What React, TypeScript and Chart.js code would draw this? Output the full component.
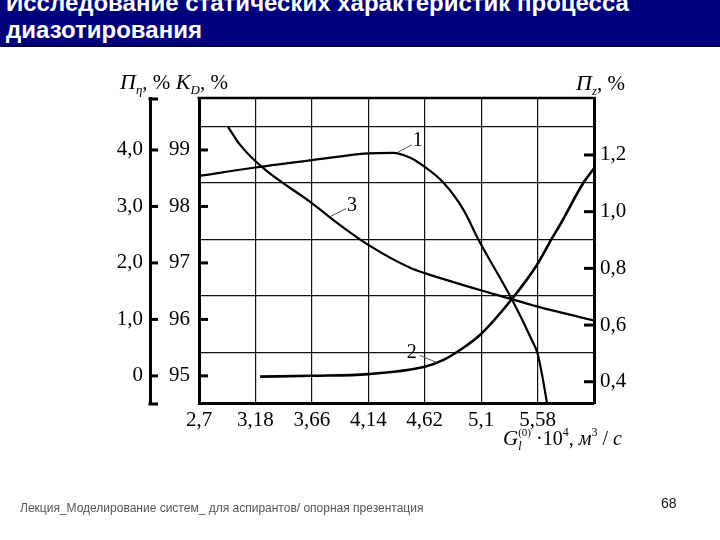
import React, { useEffect, useRef } from 'react';
import { Chart, registerables } from 'chart.js';

Chart.register(...registerables);

// ---- data ----
const xTicks = [2.7, 3.18, 3.66, 4.14, 4.62, 5.1, 5.58, 6.06];
const kTicks = [95, 96, 97, 98, 99];
const pTicks = [0, 1, 2, 3, 4];
const pTickLabels = ['0', '1,0', '2,0', '3,0', '4,0'];
const rTicks = [0.4, 0.6, 0.8, 1.0, 1.2];
const hGrid = [95.42, 96.42, 97.42, 98.42, 99.41];

// curve 1: K_D, %
const curve1X = [2.7, 3.18, 3.66, 4.14, 4.35, 4.51, 4.62, 4.78, 4.95, 5.075, 5.36, 5.53, 5.579, 5.62, 5.66];
const curve1Y = [98.54, 98.69, 98.82, 98.94, 98.95, 98.85, 98.7, 98.42, 97.94, 97.42, 96.36, 95.64, 95.4, 95.0, 94.52];

// curve 2: П_z, %
const curve2X = [3.22, 3.66, 4.14, 4.62, 4.78, 4.92, 5.09, 5.36, 5.574, 5.7, 5.77, 5.97, 6.06];
const curve2Y = [0.418, 0.421, 0.427, 0.453, 0.477, 0.512, 0.565, 0.691, 0.812, 0.904, 0.953, 1.102, 1.153];

// curve 3: П_η, %
const curve3X = [2.947, 3.05, 3.234, 3.66, 3.9, 4.14, 4.5, 4.62, 5.09, 5.36, 5.574, 6.06];
const curve3Y = [4.41, 4.09, 3.7, 3.06, 2.67, 2.32, 1.91, 1.82, 1.52, 1.36, 1.23, 0.98];

const fmt = (v: number, d?: number) => (d !== undefined ? v.toFixed(d) : String(v)).replace('.', ',');

const SERIF = '"Liberation Serif", "Times New Roman", serif';

type Seg = { t: string; it?: boolean; sz: number; dy?: number; noAdv?: boolean };

function drawRich(ctx: CanvasRenderingContext2D, segs: Seg[], x: number, y: number) {
  let cx = x;
  for (const s of segs) {
    ctx.font = `${s.it ? 'italic ' : ''}${s.sz}px ${SERIF}`;
    ctx.fillText(s.t, cx, y + (s.dy || 0));
    if (!s.noAdv) cx += ctx.measureText(s.t).width;
  }
}

const decoPlugin = {
  id: 'deco',
  afterDraw(chart: any) {
    const ctx: CanvasRenderingContext2D = chart.ctx;
    const a = chart.chartArea;
    const sK = chart.scales.yK;
    const sP = chart.scales.yP;
    const sR = chart.scales.yR;
    const sX = chart.scales.x;
    const line = (x1: number, y1: number, x2: number, y2: number) => {
      ctx.beginPath();
      ctx.moveTo(x1, y1);
      ctx.lineTo(x2, y2);
      ctx.stroke();
    };
    ctx.save();
    ctx.strokeStyle = '#000';
    ctx.fillStyle = '#000';
    // top border
    ctx.lineWidth = 2.5;
    line(a.left - 1.5, a.top, a.right + 1.5, a.top);
    // inner tick marks
    ctx.lineWidth = 3;
    kTicks.forEach((v) => {
      const y = sK.getPixelForValue(v);
      line(a.left, y, a.left + 9, y);
    });
    rTicks.forEach((v) => {
      const y = sR.getPixelForValue(v);
      line(a.right - 10, y, a.right, y);
    });
    // bracket of outer axis
    const bx = sP.right;
    pTicks.forEach((v) => {
      const y = sP.getPixelForValue(v);
      line(bx, y, bx + 8, y);
    });
    line(bx - 1.5, a.top + 1, bx + 8, a.top + 1);
    line(bx - 1.5, a.bottom + 1, bx + 8, a.bottom + 1);

    // curve labels with leader lines
    ctx.lineWidth = 1;
    ctx.strokeStyle = '#555';
    ctx.font = `20px ${SERIF}`;
    ctx.textAlign = 'center';
    ctx.textBaseline = 'middle';
    // 1
    let px = sX.getPixelForValue(4.383);
    let py = sK.getPixelForValue(98.95);
    line(px, py, px + 15, py - 8);
    ctx.fillText('1', px + 21, py - 12);
    // 3
    px = sX.getPixelForValue(3.815);
    py = sP.getPixelForValue(2.82);
    line(px, py, px + 16, py - 8);
    ctx.fillText('3', px + 22, py - 11);
    // 2
    px = sX.getPixelForValue(4.723);
    py = sR.getPixelForValue(0.468);
    line(px, py, px - 17, py - 7);
    ctx.fillText('2', px - 25, py - 10);

    // axis titles
    ctx.textAlign = 'left';
    ctx.textBaseline = 'alphabetic';
    drawRich(ctx, [
      { t: 'П', it: true, sz: 22 },
      { t: 'η', it: true, sz: 13, dy: 5 },
      { t: ', %', sz: 21 },
      { t: ' K', it: true, sz: 22 },
      { t: 'D', it: true, sz: 13, dy: 5 },
      { t: ', %', sz: 21 },
    ], 120, 89);
    drawRich(ctx, [
      { t: 'П', it: true, sz: 22 },
      { t: 'z', it: true, sz: 13, dy: 5 },
      { t: ', %', sz: 21 },
    ], 576, 90);
    drawRich(ctx, [
      { t: 'G', it: true, sz: 21 },
      { t: 'l', it: true, sz: 12, dy: 5, noAdv: true },
      { t: '(0)', sz: 11, dy: -9 },
      { t: ' ·10', sz: 20 },
      { t: '4', sz: 12, dy: -9 },
      { t: ', ', sz: 20 },
      { t: 'м', it: true, sz: 20 },
      { t: '3', sz: 12, dy: -9 },
      { t: ' / ', sz: 20 },
      { t: 'с', it: true, sz: 20 },
    ], 503, 445);
    ctx.restore();
  },
};

const tickFont = { family: SERIF, size: 21 };

export default function App() {
  const ref = useRef<HTMLCanvasElement>(null);
  useEffect(() => {
    if (!ref.current) return;
    const lineStyle = {
      borderColor: '#000',
      borderWidth: 2.2,
      pointRadius: 0,
      fill: false,
      cubicInterpolationMode: 'monotone' as const,
    };
    const chart = new Chart(ref.current, {
      type: 'line',
      data: {
        datasets: [
          { ...lineStyle, label: '1', yAxisID: 'yK', data: curve1X.map((x, i) => ({ x, y: curve1Y[i] })) },
          { ...lineStyle, label: '2', yAxisID: 'yR', borderWidth: 2.6, data: curve2X.map((x, i) => ({ x, y: curve2Y[i] })) },
          { ...lineStyle, label: '3', yAxisID: 'yP', data: curve3X.map((x, i) => ({ x, y: curve3Y[i] })) },
        ],
      },
      options: {
        responsive: false,
        animation: false,
        devicePixelRatio: 1,
        layout: { padding: { top: 98, left: 0, right: 0, bottom: 0 } },
        plugins: { legend: { display: false }, tooltip: { enabled: false } },
        scales: {
          x: {
            type: 'linear',
            position: 'bottom',
            min: 2.7,
            max: 6.06,
            afterBuildTicks: (s: any) => {
              s.ticks = xTicks.map((v) => ({ value: v }));
            },
            ticks: {
              callback: (v: any) => (v === 6.06 ? '' : fmt(v)),
              font: tickFont,
              color: '#000',
              padding: 5,
              maxRotation: 0,
              autoSkip: false,
            },
            grid: { color: '#111', lineWidth: 1.2, drawTicks: false },
            border: { color: '#000', width: 3 },
            afterFit: (s: any) => {
              s.height = 137;
            },
          },
          yK: {
            type: 'linear',
            position: 'left',
            weight: 1,
            min: 94.52,
            max: 99.92,
            afterBuildTicks: (s: any) => {
              s.ticks = kTicks.map((v) => ({ value: v }));
            },
            ticks: { callback: (v: any) => String(v), font: tickFont, color: '#000', padding: 9 },
            grid: { display: false, drawTicks: false },
            border: { color: '#000', width: 3 },
            afterFit: (s: any) => {
              s.width = 49;
            },
          },
          yP: {
            type: 'linear',
            position: 'left',
            weight: 2,
            min: -0.48,
            max: 4.92,
            afterBuildTicks: (s: any) => {
              s.ticks = pTicks.map((v) => ({ value: v }));
            },
            ticks: {
              callback: (v: any) => pTickLabels[pTicks.indexOf(v)] ?? '',
              font: tickFont,
              color: '#000',
              padding: 7,
            },
            grid: { display: false, drawTicks: false },
            border: { color: '#000', width: 3 },
            afterFit: (s: any) => {
              s.width = 150;
            },
          },
          yR: {
            type: 'linear',
            position: 'right',
            weight: 1,
            min: 0.325,
            max: 1.401,
            afterBuildTicks: (s: any) => {
              s.ticks = rTicks.map((v) => ({ value: v }));
            },
            ticks: { callback: (v: any) => fmt(v, 1), font: tickFont, color: '#000', padding: 6 },
            grid: { display: false, drawTicks: false },
            border: { color: '#000', width: 3 },
            afterFit: (s: any) => {
              s.width = 126;
            },
          },
          yG: {
            type: 'linear',
            position: 'right',
            weight: 0,
            min: 94.52,
            max: 99.92,
            afterBuildTicks: (s: any) => {
              s.ticks = hGrid.map((v) => ({ value: v }));
            },
            ticks: { display: false },
            grid: { color: '#111', lineWidth: 1.2, drawTicks: false },
            border: { display: false },
            afterFit: (s: any) => {
              s.width = 0;
            },
          },
        },
      } as any,
      plugins: [decoPlugin],
    });
    return () => chart.destroy();
  }, []);

  return (
    <div
      style={{
        position: 'fixed',
        left: 0,
        top: 0,
        width: 720,
        height: 540,
        background: '#fff',
        overflow: 'hidden',
      }}
    >
      <div
        style={{
          position: 'absolute',
          left: 0,
          top: 0,
          width: 720,
          height: 45,
          background: '#00007e',
          borderBottom: '2px solid #000048',
          overflow: 'hidden',
        }}
      >
        <div
          style={{
            position: 'absolute',
            left: 6,
            top: -11,
            width: 715,
            color: '#fff',
            fontFamily: '"Liberation Sans", Arial, sans-serif',
            fontWeight: 'bold',
            fontSize: 24,
            lineHeight: '27px',
            whiteSpace: 'nowrap',
          }}
        >
          <div>Исследование статических характеристик процесса</div>
          <div>диазотирования</div>
        </div>
      </div>
      <canvas ref={ref} width={720} height={540} style={{ position: 'absolute', left: 0, top: 0 }} />
      <div
        style={{
          position: 'absolute',
          left: 20,
          top: 500,
          color: '#555',
          fontFamily: '"Liberation Sans", Arial, sans-serif',
          fontSize: 12,
          lineHeight: '16px',
          whiteSpace: 'nowrap',
        }}
      >
        Лекция_Моделирование систем_ для аспирантов/ опорная презентация
      </div>
      <div
        style={{
          position: 'absolute',
          left: 661,
          top: 495,
          color: '#111',
          fontFamily: '"Liberation Sans", Arial, sans-serif',
          fontSize: 14,
          lineHeight: '16px',
        }}
      >
        68
      </div>
    </div>
  );
}
